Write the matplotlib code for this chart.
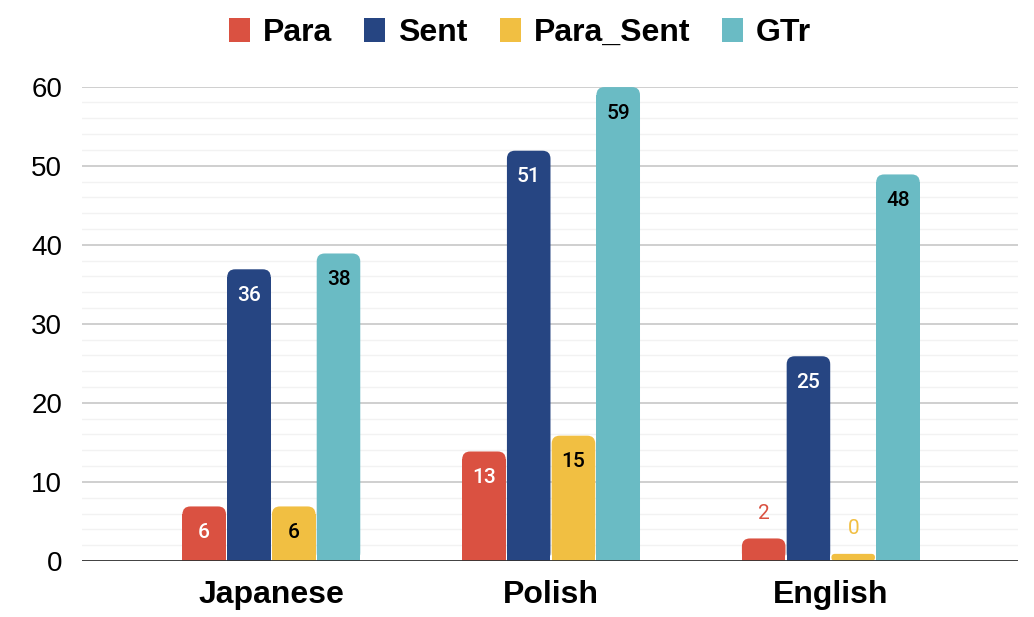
import numpy as np
import matplotlib
matplotlib.use("Agg")
import matplotlib.pyplot as plt
from matplotlib.patches import FancyBboxPatch, Rectangle, Patch

# data
languages = ["Japanese", "Polish", "English"]
series = ["Para", "Sent", "Para_Sent", "GTr"]
para = [6, 13, 2]
sent = [36, 51, 25]
para_sent = [6, 15, 0]
gtr = [38, 59, 48]
# bar heights as drawn in the picture (slightly above the labelled value)
para_h = [6.9, 13.85, 2.85]
sent_h = [36.9, 51.9, 25.9]
para_sent_h = [6.9, 15.85, 0.9]
gtr_h = [38.9, 59.95, 48.9]

colors = ["#DA5141", "#264582", "#F1BF42", "#6ABBC4"]
label_colors = ["white", "white", "black", "black"]

labels_all = [para, sent, para_sent, gtr]
heights_all = [para_h, sent_h, para_sent_h, gtr_h]

fig = plt.figure(figsize=(10.34, 6.17), dpi=100)
ax = fig.add_axes([0.079, 0.0908, 0.9055, 0.7687])

x = np.arange(len(languages))
w = 0.16
offsets = (np.arange(4) - 1.5) * w

ax.set_xlim(-0.678, 2.669)
ax.set_ylim(0, 60)

# px -> data conversions for the rounded caps
px_x = 1 / 279.8
px_y = 60 / 474.3
r = 8  # corner radius in px

for i in range(4):
    bars = ax.bar(x + offsets[i], heights_all[i], w, color=colors[i], alpha=0)
    for j, b in enumerate(bars):
        bx, bw, bh = b.get_x() + 0.6 * px_x, b.get_width() - 1.2 * px_x, b.get_height()
        rad_x = min(r * px_x, bh / px_y * px_x / 2)
        p = FancyBboxPatch((bx, 0), bw, bh,
                           boxstyle=f"round,pad=0,rounding_size={rad_x}",
                           mutation_aspect=px_y / px_x,
                           fc=colors[i], ec="none", zorder=3)
        ax.add_patch(p)
        if bh > 2 * r * px_y:
            ax.add_patch(Rectangle((bx, 0), bw, bh - r * px_y, fc=colors[i], ec="none", zorder=3))
        val = labels_all[i][j]
        if bh > 5:
            ax.text(b.get_x() + b.get_width() / 2, bh - 3.3, str(val), ha="center", va="center",
                    fontsize=15, family="Roboto", fontweight="medium", color=label_colors[i], zorder=4)
        else:
            ax.text(b.get_x() + b.get_width() / 2, bh + 3.2, str(val), ha="center", va="center",
                    fontsize=15, family="Roboto", color=colors[i], zorder=4)

ax.set_yticks(np.arange(0, 61, 10))
ax.set_yticks(np.arange(0, 61, 2), minor=True)
ax.grid(axis="y", which="major", color="#CCCCCC", linewidth=1.3, zorder=0)
ax.grid(axis="y", which="minor", color="#F2F2F2", linewidth=1.0, zorder=0)
ax.set_axisbelow(True)
ax.axhline(0, color="#333333", linewidth=2, zorder=5)

ax.set_xticks(x)
ax.set_xticklabels(languages, fontsize=23, fontweight="bold", family="Liberation Sans")
ax.tick_params(axis="x", length=0, pad=14)
ax.tick_params(axis="y", which="both", length=0, pad=14, labelsize=20)
for t in ax.get_yticklabels():
    t.set_family("Liberation Sans")

for s in ax.spines.values():
    s.set_visible(False)

handles = [Patch(facecolor=c, edgecolor="none") for c in colors]
fig.legend(handles, series, loc="center", bbox_to_anchor=(0.503, 0.946), ncol=4,
           frameon=False, handlelength=0.66, handleheight=0.75, handletextpad=0.4,
           columnspacing=1.0, prop={"family": "Liberation Sans", "weight": "bold", "size": 23})

fig.savefig("out.png", dpi=100)
